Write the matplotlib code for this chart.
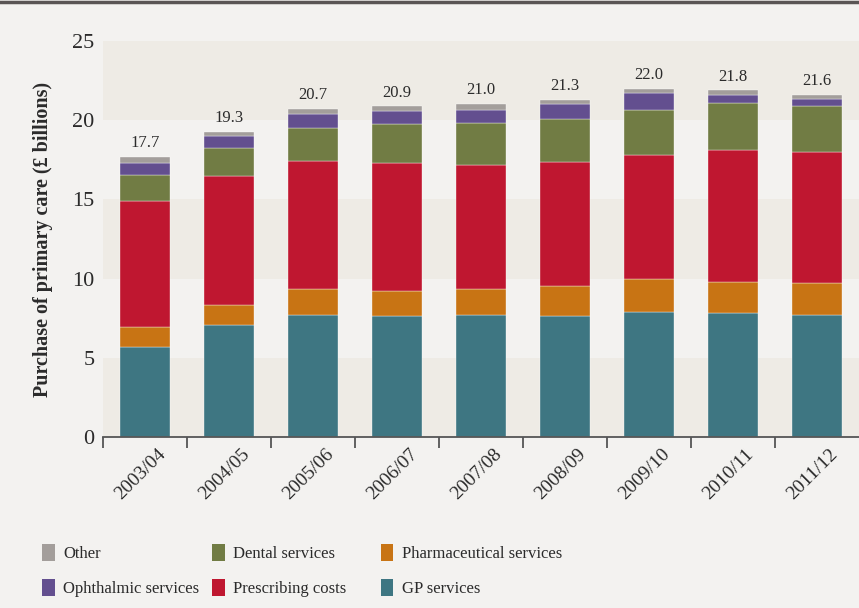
import matplotlib.pyplot as plt
import matplotlib.patches as ptch
import matplotlib.transforms as mtrans
from matplotlib.lines import Line2D
import numpy as np

years = ["2003/04", "2004/05", "2005/06", "2006/07", "2007/08",
         "2008/09", "2009/10", "2010/11", "2011/12"]
gp = [5.66, 7.07, 7.72, 7.64, 7.72, 7.64, 7.89, 7.81, 7.72]
pharma = [1.30, 1.24, 1.64, 1.56, 1.64, 1.87, 2.07, 1.98, 1.98]
prescribing = [7.94, 8.17, 8.08, 8.08, 7.83, 7.85, 7.82, 8.33, 8.31]
dental = [1.64, 1.79, 2.06, 2.46, 2.63, 2.72, 2.88, 2.95, 2.91]
ophthalmic = [0.74, 0.73, 0.91, 0.84, 0.84, 0.92, 1.08, 0.50, 0.40]
other = [0.40, 0.28, 0.30, 0.30, 0.38, 0.30, 0.26, 0.33, 0.30]
totals = ["17.7", "19.3", "20.7", "20.9", "21.0", "21.3", "22.0", "21.8", "21.6"]

series = [
    ("GP services", gp, "#3e7682"),
    ("Pharmaceutical services", pharma, "#c87414"),
    ("Prescribing costs", prescribing, "#bf1730"),
    ("Dental services", dental, "#717c44"),
    ("Ophthalmic services", ophthalmic, "#634f8f"),
    ("Other", other, "#a39e9b"),
]

plt.rcParams["font.family"] = ["Liberation Serif", "DejaVu Serif"]
bg = "#f3f2f0"
band = "#eeebe5"
txt = "#2b2b2b"

fig = plt.figure(figsize=(8.59, 6.08), dpi=100, facecolor=bg)
ax = fig.add_axes([0.12, 0.281, 0.88, 0.6515])
ax.set_facecolor(bg)

# alternating horizontal bands
for lo in range(0, 25, 10):
    ax.axhspan(lo, lo + 5, color=band, zorder=0, lw=0)
ax.axhspan(20, 25, color=band, zorder=0, lw=0)

x = np.arange(len(years))
bottom = np.zeros(len(years))
handles = {}
for name, vals, col in series:
    ax.bar(x, vals, width=0.59, bottom=bottom, color=col,
           edgecolor="#ffffff", linewidth=0.25, zorder=2)
    handles[name] = ptch.Patch(facecolor=col, edgecolor="none")
    bottom = bottom + np.array(vals)

for xi, top, lab in zip(x, bottom, totals):
    ax.annotate(lab, (xi, top), xytext=(0, 4), textcoords="offset points",
                ha="center", va="bottom", fontsize=12, color=txt)

ax.set_xlim(-0.5, 8.5)
ax.set_ylim(0, 25)
ax.set_yticks([0, 5, 10, 15, 20, 25])
ax.tick_params(axis="y", length=0, pad=6, labelsize=16, labelcolor=txt)

ax.set_xticks(x)
ax.set_xticks(np.arange(-0.5, 8.5, 1.0), minor=True)
ax.tick_params(axis="x", which="major", length=0, pad=6)
ax.tick_params(axis="x", which="minor", length=8, width=1.3, color="#555555",
               direction="out")
ax.set_xticklabels(years, rotation=45, ha="right", rotation_mode="anchor",
                   fontsize=14, color=txt)
offset = mtrans.ScaledTranslation(12 / 100, 0, fig.dpi_scale_trans)
for lbl in ax.get_xticklabels():
    lbl.set_transform(lbl.get_transform() + offset)

for s in ["top", "right", "left"]:
    ax.spines[s].set_visible(False)
ax.spines["bottom"].set_color("#555555")
ax.spines["bottom"].set_linewidth(1.3)

ax.set_ylabel("Purchase of primary care (£ billions)", fontsize=14.5,
              fontweight="bold", color=txt, labelpad=14)

# legend in three columns
cols = [
    (0.049, ["Other", "Ophthalmic services"]),
    (0.247, ["Dental services", "Prescribing costs"]),
    (0.4435, ["Pharmaceutical services", "GP services"]),
]
for xpos, names in cols:
    leg = fig.legend([handles[n] for n in names], names, loc="upper left",
                     bbox_to_anchor=(xpos, 0.106), frameon=False,
                     fontsize=12, handlelength=0.75, handleheight=1.2,
                     handletextpad=0.5, labelspacing=1.05, borderpad=0,
                     borderaxespad=0)
    for t in leg.get_texts():
        t.set_color(txt)

# dark rule at the very top
fig.add_artist(Line2D([0, 1], [0.997, 0.997], color="#5a5555", lw=2.5,
                      transform=fig.transFigure))

fig.savefig("out.png", dpi=100, facecolor=bg)
